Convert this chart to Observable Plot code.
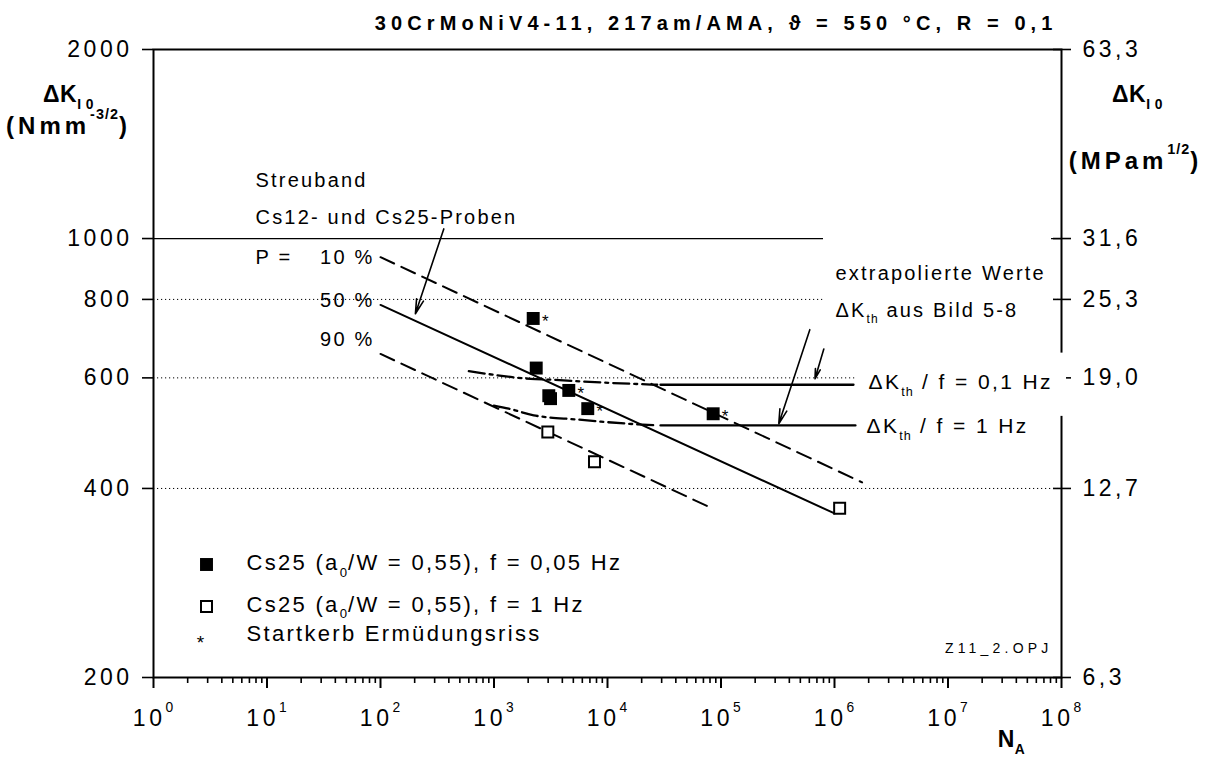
<!DOCTYPE html>
<html>
<head>
<meta charset="utf-8">
<script src="https://cdn.jsdelivr.net/npm/d3@7"></script>
<script src="https://cdn.jsdelivr.net/npm/@observablehq/plot@0.6"></script>
<style>
  body { margin: 0; background: #fff; }
  #chart svg text { white-space: pre; }
</style>
</head>
<body>
<div id="chart"></div>
<script>
// ---------- axes / ticks ----------
const decades = [0, 1, 2, 3, 4, 5, 6, 7, 8];
const minorMultipliers = [2, 3, 4, 5, 6, 7, 8, 9];
const leftTicks = [200, 400, 600, 800, 1000, 2000];
const rightTickLabels = ["6,3", "12,7", "19,0", "25,3", "31,6", "63,3"];
const dottedGrid = [400, 600, 800];
const solidGrid = [1000];

// ---------- measured points ----------
// Cs25 (a0/W = 0,55), f = 0,05 Hz  (filled squares)
const filledN = [2215, 2355, 3040, 3150, 4560, 6700, 85300];
const filledK = [746, 622, 562, 556, 573, 536, 526];
const filledStar = [true, false, false, false, true, true, true];
// Cs25 (a0/W = 0,55), f = 1 Hz  (open squares)
const openN = [2980, 7680, 1110000];
const openK = [492, 441, 372];

// ---------- scatter band Cs12/Cs25, P = 10 / 50 / 90 % ----------
const band10N = [100, 1750000], band10K = [934, 409];
const band50N = [100, 1000000], band50K = [784, 365];
const band90N = [100, 78000],   band90K = [655, 374];

// ---------- dash-dot transition curves ----------
const dd01N = [600, 2100, 3150, 8670, 27400];
const dd01K = [615, 598, 596, 590, 585];
const dd1N = [996, 1350, 2240, 5410, 18300, 27400];
const dd1K = [542, 536, 523, 515, 506, 504];

// ---------- extrapolated thresholds dK_th ----------
const th01N = [29300, 1470000], th01K = [585, 585];
const th1N = [29300, 1530000],  th1K = [504, 504];

// ---------- annotation arrows (data space) ----------
const arrowFromN = [361, 606000, 805000];
const arrowFromK = [1036, 716, 667];
const arrowToN = [203, 323000, 673000];
const arrowToK = [759, 507, 598];

// ---------- white label backgrounds (data space) ----------
const boxN1 = [800000, 1530000];
const boxN2 = [81700000, 110700000];
const boxK1 = [740, 521];
const boxK2 = [1030, 657];

// ---------- build tables ----------
const rows = (N, K) => N.map((n, i) => ({N: n, K: K[i]}));
const filled = filledN.map((n, i) => ({N: n, K: filledK[i], star: filledStar[i]}));
const open = rows(openN, openK);
const majorX = decades.map(e => 10 ** e);
const minorX = decades.slice(0, -1).flatMap(e => minorMultipliers.map(m => m * 10 ** e));
const arrows = arrowFromN.map((n, i) => ({n1: n, k1: arrowFromK[i], n2: arrowToN[i], k2: arrowToK[i]}));
const boxes = boxN1.map((n, i) => ({x1: n, x2: boxN2[i], y1: boxK1[i], y2: boxK2[i]}));

const FF = '"Liberation Sans", Arial, Helvetica, sans-serif';
const label = (s, dx, dy, o = {}) =>
  Plot.text([s], {frameAnchor: "top-left", lineAnchor: "middle", dx, dy, textAnchor: "start", fontSize: 20, ...o});

const dashed = {x: "N", y: "K", stroke: "black", strokeWidth: 2, strokeDasharray: "15,8"};
const dashDot = {x: "N", y: "K", stroke: "black", strokeWidth: 2.3, strokeDasharray: "16,5,3,5", curve: "monotone-x"};

const plot = Plot.plot({
  width: 1205, height: 760,
  marginLeft: 153, marginRight: 144, marginTop: 49, marginBottom: 83,
  x: {type: "log", domain: [1, 1e8], axis: null},
  y: {type: "log", domain: [200, 2000], axis: null},
  style: {fontFamily: FF, background: "white", color: "black", overflow: "visible"},
  marks: [
    Plot.ruleY(dottedGrid, {stroke: "black", strokeWidth: 1, strokeDasharray: "1.2,2.8"}),
    Plot.ruleY(solidGrid, {stroke: "black", strokeWidth: 1.3}),
    Plot.frame({stroke: "black", strokeWidth: 2}),
    Plot.axisX(majorX, {anchor: "bottom", tickSize: 11, tickPadding: 21, strokeWidth: 2, fontSize: 23,
      tickFormat: d => `10^{${Math.round(Math.log10(d))}}`, label: null}),
    Plot.axisX(minorX, {anchor: "bottom", tickSize: 6, strokeWidth: 1.6, tickFormat: () => "", label: null}),
    Plot.axisY(leftTicks, {anchor: "left", tickSize: 11, tickPadding: 10, strokeWidth: 1.6, fontSize: 23,
      tickFormat: d => String(d), label: null}),
    Plot.axisY(leftTicks, {anchor: "right", tickSize: 18, dx: -9, strokeWidth: 1.6, tickFormat: () => "", label: null}),
    Plot.axisY(leftTicks, {anchor: "right", tickSize: 0, tickPadding: 21, fontSize: 23,
      tickFormat: d => rightTickLabels[leftTicks.indexOf(d)], label: null}),

    Plot.rect(boxes, {x1: "x1", x2: "x2", y1: "y1", y2: "y2", fill: "white"}),

    Plot.line(rows(band10N, band10K), dashed),
    Plot.line(rows(band90N, band90K), dashed),
    Plot.line(rows(band50N, band50K), {x: "N", y: "K", stroke: "black", strokeWidth: 2}),
    Plot.line(rows(dd01N, dd01K), dashDot),
    Plot.line(rows(dd1N, dd1K), dashDot),
    Plot.line(rows(th01N, th01K), {x: "N", y: "K", stroke: "black", strokeWidth: 2.3}),
    Plot.line(rows(th1N, th1K), {x: "N", y: "K", stroke: "black", strokeWidth: 2.3}),

    Plot.dot(filled, {x: "N", y: "K", symbol: "square", r: 7.3, fill: "black"}),
    Plot.dot(open, {x: "N", y: "K", symbol: "square", r: 6.2, fill: "white", stroke: "black", strokeWidth: 2}),
    Plot.text(filled.filter(d => d.star), {x: "N", y: "K", text: () => "*", dx: 12, dy: 3, fontSize: 17}),

    Plot.arrow(arrows, {x1: "n1", y1: "k1", x2: "n2", y2: "k2", stroke: "black", strokeWidth: 1.6, headLength: 14, headAngle: 28}),

    // title and axis titles
    label("30CrMoNiV4-11, 217am/AMA, ϑ = 550 °C, R = 0,1", 904, -26, {textAnchor: "end", fontWeight: "bold"}),
    label("ΔK_{I 0}", -85, 45.3, {textAnchor: "middle", fontWeight: "bold", fontSize: 23}),
    label("(Nmm^{-3/2})", -85, 76.7, {textAnchor: "middle", fontWeight: "bold", fontSize: 24}),
    label("ΔK_{I 0}", 984, 45.3, {textAnchor: "middle", fontWeight: "bold", fontSize: 23}),
    label("(MPam^{1/2})", 982, 112, {textAnchor: "middle", fontWeight: "bold", fontSize: 24}),
    label("N_{A}", 858, 690, {textAnchor: "middle", fontWeight: "bold", fontSize: 23}),

    // annotations
    label("Streuband", 102, 131),
    label("Cs12- und Cs25-Proben", 102, 168),
    label("P =", 102, 208.5),
    label("10 %", 221, 208.5, {textAnchor: "end"}),
    label("50 %", 221, 251, {textAnchor: "end"}),
    label("90 %", 221, 290, {textAnchor: "end"}),
    label("extrapolierte Werte", 682, 224),
    label("ΔK_{th} aus Bild 5-8", 682, 261),
    label("ΔK_{th} / f = 0,1 Hz", 715, 333, {fontSize: 21}),
    label("ΔK_{th} / f = 1 Hz", 713, 377, {fontSize: 21}),

    // legend
    Plot.dot([0], {frameAnchor: "top-left", dx: 53, dy: 515, symbol: "square", r: 7.3, fill: "black"}),
    Plot.dot([0], {frameAnchor: "top-left", dx: 53, dy: 557, symbol: "square", r: 6.2, fill: "white", stroke: "black", strokeWidth: 2}),
    label("*", 47, 593, {textAnchor: "middle", fontSize: 19}),
    label("Cs25 (a_{0}/W = 0,55), f = 0,05 Hz", 93, 513.5, {fontSize: 22}),
    label("Cs25 (a_{0}/W = 0,55), f = 1 Hz", 93, 555, {fontSize: 22}),
    label("Startkerb Ermüdungsriss", 93, 584, {fontSize: 22}),
    label("Z11_2.OPJ", 899, 599, {textAnchor: "end", fontSize: 14})
  ]
});

document.getElementById("chart").append(plot);

// letter spacing and sub/superscripts
const spacing = {
  "20|700": 5.1, "23|400": 3.5, "20|400": 2.2, "21|400": 2.4, "22|400": 2.3,
  "14|400": 4.2, "23|700": 0.5, "24|700": 4
};
const NS = "http://www.w3.org/2000/svg";
for (const t of plot.querySelectorAll("text")) {
  const cs = getComputedStyle(t);
  const fs = parseFloat(cs.fontSize);
  const fw = (cs.fontWeight === "bold" || +cs.fontWeight >= 600) ? 700 : 400;
  const ls = spacing[`${fs}|${fw}`] || 0;
  if (ls) t.style.letterSpacing = ls + "px";
  const s = t.textContent;
  if (!/[_^]\{/.test(s)) continue;
  while (t.firstChild) t.removeChild(t.firstChild);
  let cur = 0, last = 0, m;
  const push = (txt, off, size) => {
    const ts = document.createElementNS(NS, "tspan");
    const d = off - cur;
    if (d) ts.setAttribute("dy", d);
    cur = off;
    if (size) {
      ts.setAttribute("font-size", size);
      ts.style.letterSpacing = Math.min(ls, 1) + "px";
    }
    ts.textContent = txt;
    t.appendChild(ts);
  };
  const re = /([_^])\{([^}]*)\}/g;
  while ((m = re.exec(s))) {
    if (m.index > last) push(s.slice(last, m.index), 0);
    const sub = m[1] === "_";
    push(m[2], sub ? fs * 0.3 : -fs * 0.62, fs * 0.6);
    last = re.lastIndex;
  }
  if (last < s.length) push(s.slice(last), 0);
}
</script>
</body>
</html>
